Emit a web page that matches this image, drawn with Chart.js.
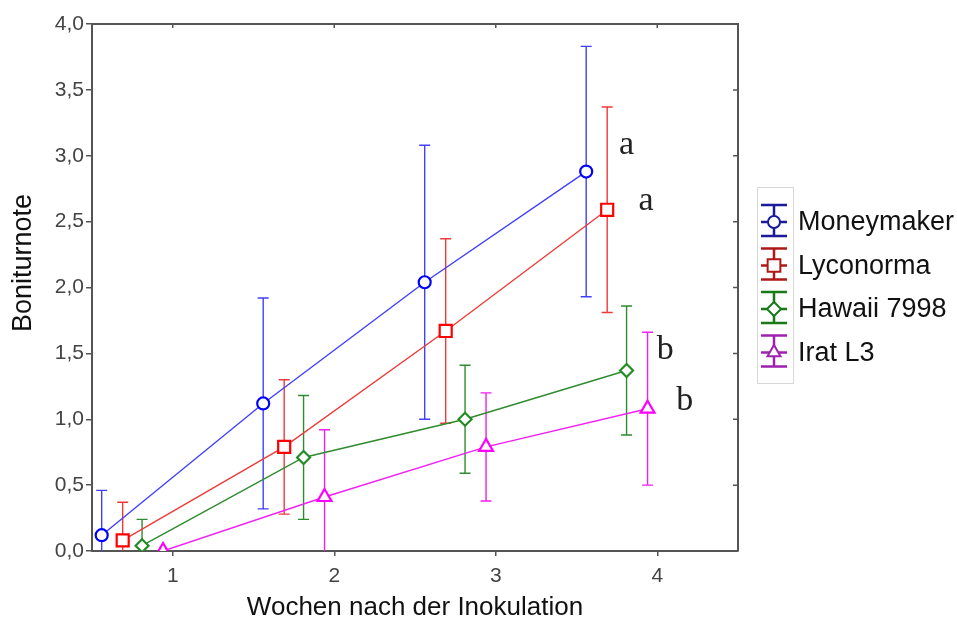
<!DOCTYPE html>
<html>
<head>
<meta charset="utf-8">
<script src="https://cdn.jsdelivr.net/npm/chart.js@4.4.1/dist/chart.umd.min.js"></script>
<style>
  html, body { margin: 0; padding: 0; background: #fff; }
  #wrap { width: 957px; height: 623px; }
</style>
</head>
<body>
<div id="wrap"><canvas id="chart" width="957" height="623"></canvas></div>
<script>
// Werte
const weeks = [1, 2, 3, 4];
const xTicks = [1, 2, 3, 4];
const yTicks = [0, 0.5, 1, 1.5, 2, 2.5, 3, 3.5, 4];

const sorten = ['Moneymaker', 'Lyconorma', 'Hawaii 7998', 'Irat L3'];
const dodge = [-0.44, -0.31, -0.19, -0.06];

const moneymaker = [0.12, 1.12, 2.04, 2.88];
const moneymakerSd = [0.34, 0.80, 1.04, 0.95];
const lyconorma = [0.08, 0.79, 1.67, 2.59];
const lyconormaSd = [0.29, 0.51, 0.70, 0.78];
const hawaii = [0.04, 0.71, 1.00, 1.37];
const hawaiiSd = [0.20, 0.47, 0.41, 0.49];
const irat = [0.00, 0.41, 0.79, 1.08];
const iratSd = [0.00, 0.51, 0.41, 0.58];

// Signifikanzbuchstaben (x, y in Datenkoordinaten)
const letters = ['a', 'a', 'b', 'b'];
const letterX = [3.81, 3.93, 4.05, 4.17];
const letterY = [3.01, 2.59, 1.46, 1.07];

const means = [moneymaker, lyconorma, hawaii, irat];
const sds = [moneymakerSd, lyconormaSd, hawaiiSd, iratSd];

const lineColors = ['#4040ff', '#f03a3a', '#2e8b2e', '#f020f0'];
const markColors = ['#0000ff', '#ff0000', '#228b22', '#ff00ff'];
const legendColors = ['#1a1a9a', '#b01818', '#1a7a1a', '#a020b0'];
const shapes = ['circle', 'rect', 'rectRot', 'triangle'];
const radii = [6, 8.5, 6.5, 8];

const fmt = v => v.toFixed(1).replace('.', ',');
const axisColor = '#555';

const datasets = sorten.map((name, i) => ({
  label: name,
  data: weeks.map((w, j) => ({ x: w + dodge[i], y: means[i][j] })),
  borderColor: lineColors[i],
  borderWidth: 1.4,
  pointStyle: shapes[i],
  pointRadius: radii[i],
  pointBorderColor: markColors[i],
  pointBackgroundColor: '#fff',
  pointBorderWidth: 2.2,
  tension: 0,
  clip: 0
}));

const errorBars = {
  id: 'errorBars',
  beforeDatasetsDraw(chart) {
    const { ctx, chartArea: a, scales: { x, y } } = chart;
    ctx.save();
    ctx.beginPath();
    ctx.rect(a.left, a.top, a.right - a.left, a.bottom - a.top);
    ctx.clip();
    ctx.lineWidth = 1.4;
    means.forEach((m, i) => {
      ctx.strokeStyle = lineColors[i];
      m.forEach((v, j) => {
        if (!sds[i][j]) return;
        const px = x.getPixelForValue(weeks[j] + dodge[i]);
        const top = y.getPixelForValue(v + sds[i][j]);
        const bot = y.getPixelForValue(v - sds[i][j]);
        ctx.beginPath();
        ctx.moveTo(px, top); ctx.lineTo(px, bot);
        ctx.moveTo(px - 5.5, top); ctx.lineTo(px + 5.5, top);
        ctx.moveTo(px - 5.5, bot); ctx.lineTo(px + 5.5, bot);
        ctx.stroke();
      });
    });
    ctx.restore();
  }
};

const decorations = {
  id: 'decorations',
  afterDraw(chart) {
    const { ctx, chartArea: a, scales: { x, y } } = chart;
    ctx.save();
    // Rahmen oben/rechts mit Innenticks
    ctx.strokeStyle = axisColor;
    ctx.lineWidth = 2;
    ctx.beginPath();
    ctx.moveTo(a.left, a.top); ctx.lineTo(a.right, a.top); ctx.lineTo(a.right, a.bottom);
    ctx.stroke();
    ctx.lineWidth = 1.5;
    ctx.beginPath();
    xTicks.forEach(t => { const px = x.getPixelForValue(t); ctx.moveTo(px, a.top); ctx.lineTo(px, a.top + 4); });
    yTicks.slice(1, -1).forEach(t => { const py = y.getPixelForValue(t); ctx.moveTo(a.right, py); ctx.lineTo(a.right - 5, py); });
    ctx.stroke();

    // Buchstaben
    ctx.fillStyle = '#222';
    ctx.font = '34px "Liberation Serif", "DejaVu Serif", serif';
    ctx.textAlign = 'center';
    ctx.textBaseline = 'alphabetic';
    letters.forEach((l, i) => ctx.fillText(l, x.getPixelForValue(letterX[i]), y.getPixelForValue(letterY[i])));

    // y-Achsentitel
    ctx.save();
    ctx.translate(24, 263);
    ctx.rotate(-Math.PI / 2);
    ctx.font = '27px "Liberation Sans", Arial, sans-serif';
    ctx.fillStyle = '#111';
    ctx.textAlign = 'center';
    ctx.textBaseline = 'middle';
    ctx.fillText('Boniturnote', 0, 0);
    ctx.restore();

    // Legende
    ctx.strokeStyle = '#d8d8d8';
    ctx.lineWidth = 1;
    ctx.strokeRect(757.5, 187.5, 36, 196);
    const cx = 774;
    sorten.forEach((name, i) => {
      const cy = 222 + i * 43.5;
      const c = legendColors[i];
      ctx.strokeStyle = c;
      ctx.lineWidth = 2.5;
      ctx.beginPath();
      ctx.moveTo(cx - 13, cy - 17); ctx.lineTo(cx + 13, cy - 17);
      ctx.moveTo(cx - 13, cy + 14); ctx.lineTo(cx + 13, cy + 14);
      ctx.moveTo(cx, cy - 17); ctx.lineTo(cx, cy + 14);
      ctx.moveTo(cx - 13, cy); ctx.lineTo(cx + 13, cy);
      ctx.stroke();
      ctx.fillStyle = '#fff';
      ctx.lineWidth = 2;
      const st = { circle: ['circle', 6], rect: ['rect', 9], rectRot: ['rectRot', 7], triangle: ['triangle', 7.5] }[shapes[i]];
      ctx.beginPath();
      Chart.helpers.drawPoint(ctx, { pointStyle: st[0], radius: st[1], borderWidth: 2 }, cx, cy);
      ctx.fillStyle = '#111';
      ctx.font = '27px "Liberation Sans", Arial, sans-serif';
      ctx.textAlign = 'left';
      ctx.textBaseline = 'middle';
      ctx.fillText(name, 798, cy + 1);
    });
    ctx.restore();
  }
};

new Chart(document.getElementById('chart'), {
  type: 'line',
  data: { datasets },
  options: {
    responsive: false,
    animation: false,
    layout: { padding: { top: 24, right: 219, left: 0, bottom: 0 } },
    plugins: { legend: { display: false }, tooltip: { enabled: false } },
    scales: {
      x: {
        type: 'linear',
        min: 0.5,
        max: 4.5,
        afterBuildTicks: s => { s.ticks = xTicks.map(v => ({ value: v })); },
        afterFit: s => { s.height = 72; },
        grid: { drawOnChartArea: false, drawTicks: true, tickLength: 5, color: axisColor, lineWidth: 1.5 },
        border: { display: true, color: axisColor, width: 2 },
        ticks: { color: '#444', font: { family: '"Liberation Sans", Arial, sans-serif', size: 21 }, padding: 8, maxRotation: 0 },
        title: { display: true, text: 'Wochen nach der Inokulation', color: '#111',
                 font: { family: '"Liberation Sans", Arial, sans-serif', size: 26 }, padding: { top: 0, bottom: 0 } }
      },
      y: {
        min: 0,
        max: 4,
        afterBuildTicks: s => { s.ticks = yTicks.map(v => ({ value: v })); },
        afterFit: s => { s.width = 92; },
        grid: { drawOnChartArea: false, drawTicks: true, tickLength: 6, color: axisColor, lineWidth: 1.5 },
        border: { display: true, color: axisColor, width: 2 },
        ticks: { color: '#444', font: { family: '"Liberation Sans", Arial, sans-serif', size: 21 }, padding: 2, callback: v => fmt(v) }
      }
    }
  },
  plugins: [errorBars, decorations]
});
</script>
</body>
</html>
